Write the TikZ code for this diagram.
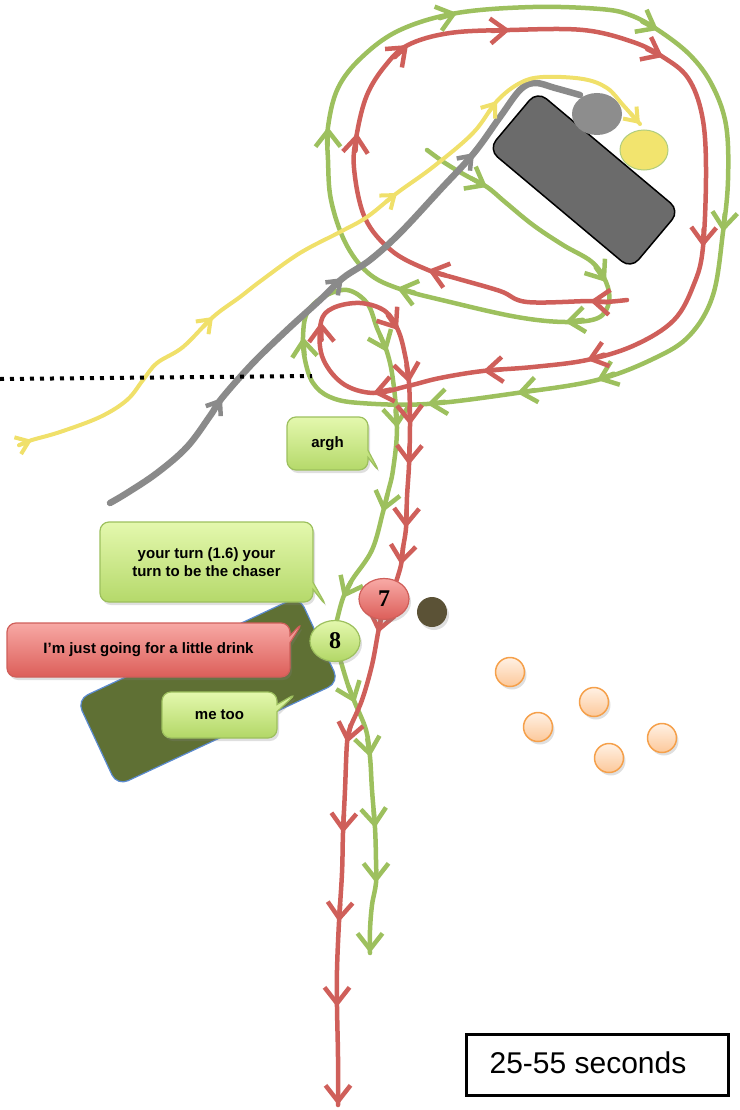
\documentclass[tikz,border=0pt]{standalone}
\usepackage{fontspec}
\setmainfont{Liberation Sans}
\newfontfamily\numfont{Liberation Serif}
\usetikzlibrary{arrows.meta,calc,shapes.callouts,shapes.geometric,shadows}
\definecolor{pgreen}{HTML}{9DC05E}
\definecolor{pred}{HTML}{CF5F5A}
\definecolor{pyellow}{HTML}{F0E06A}
\definecolor{pgray}{HTML}{8A8A8A}
\definecolor{cgtop}{HTML}{E4F8AE}
\definecolor{cgbot}{HTML}{B2D766}
\definecolor{crtop}{HTML}{F8AAA6}
\definecolor{crbot}{HTML}{DC5E59}
\definecolor{olive}{HTML}{5F7034}
\definecolor{oliveedge}{HTML}{5B8BD0}
\definecolor{rectgray}{HTML}{6B6B6B}
\definecolor{ellgray}{HTML}{8D8D8D}
\definecolor{ellyellow}{HTML}{F2E46E}
\definecolor{brownish}{HTML}{5B5236}
\definecolor{orfill}{HTML}{FCC89A}
\definecolor{orlight}{HTML}{FFF1E4}
\definecolor{oredge}{HTML}{F5A04A}
\newcommand{\mkarr}[3]{\draw[#1,-{Straight Barb[length=16pt,width=25pt]}] ($(#3)!18pt!(#2)$) -- (#3);}
\newcommand{\mkarrs}[3]{\draw[#1,-{Straight Barb[length=12pt,width=18pt]}] ($(#3)!14pt!(#2)$) -- (#3);}
\tikzset{
  pathbase/.style={line width=4.5pt,line cap=round,line join=round},
  gline/.style={pathbase,draw=pgreen},
  rline/.style={pathbase,draw=pred},
  yline/.style={pathbase,draw=pyellow,line width=4pt},
  kline/.style={pathbase,draw=pgray,line width=6.5pt},
  softshadow/.style={drop shadow={opacity=0.25,shadow xshift=2pt,shadow yshift=-3pt}},
  callgreen/.style={rectangle callout,rounded corners=9pt,top color=cgtop,bottom color=cgbot,draw=pgreen,line width=1.2pt,softshadow,font=\bfseries\fontsize{15}{18}\selectfont,align=center,inner sep=0pt},
  callred/.style={rectangle callout,rounded corners=9pt,top color=crtop,bottom color=crbot,draw=pred,line width=1.2pt,softshadow,font=\bfseries\fontsize{15}{18}\selectfont,align=center,inner sep=0pt},
  orball/.style={circle,minimum size=29pt,inner sep=0pt,top color=orlight,bottom color=orfill,draw=oredge,line width=1.5pt,softshadow},
  numnode/.style={ellipse,inner sep=0pt,minimum width=50pt,minimum height=41pt,line width=1.2pt,softshadow,font=\numfont\bfseries\fontsize{24}{26}\selectfont}
}
\begin{document}
\begin{tikzpicture}[x=1pt,y=-1pt]
\useasboundingbox (0,0) rectangle (739,1110);

% background objects
\node[rectangle,rotate=25,minimum width=245pt,minimum height=95pt,rounded corners=12pt,fill=olive,draw=oliveedge,line width=1.2pt] (mat) at (208,691) {};
\node[rectangle,rotate=-40,minimum width=186pt,minimum height=76pt,rounded corners=12pt,fill=rectgray,draw=black,line width=1.5pt] (table) at (584,180) {};
\node[ellipse,minimum width=50pt,minimum height=42pt,fill=ellgray] (grayell) at (597,114) {};
\node[ellipse,minimum width=48pt,minimum height=40pt,fill=ellyellow,draw=pgreen!80,line width=1pt] (yellell) at (644,150) {};

% green path
\draw[gline] plot[smooth,tension=0.6] coordinates {(427,150) (445,163) (465,175) (487,187) (505,202) (533,225) (563,245) (592,262) (606,282) (609,302) (598,318) (565,322) (517,317) (450,302) (397,288) (367,272) (345,242) (331,200) (328,160) (328,127) (338,88) (362,57) (400,30) (457,13) (533,7) (600,9) (630,15) (658,30) (690,55) (712,85) (726,125) (728,180) (723,232) (713,295) (690,335) (655,358) (597,380) (517,393) (427,404) (360,403) (330,397) (313,383) (305,360) (303,337) (307,313) (323,297) (347,290) (367,303) (377,328) (387,352) (393,380) (397,428) (393,470) (388,492) (383,512) (372,550) (352,580) (343,598) (337,620)};
\draw[gline] plot[smooth,tension=0.6] coordinates {(341,662) (348,685) (355,703) (366,730) (370,757) (372,790) (375,828) (376,860) (376,883) (372,905) (370,930) (370,953)};
\mkarr{gline}{465,175}{487,187}
\mkarr{gline}{592,262}{606,282}
\mkarr{gline}{598,318}{565,322}
\mkarr{gline}{450,302}{397,288}
\mkarr{gline}{328,160}{328,127}
\mkarr{gline}{400,30}{457,13}
\mkarr{gline}{630,15}{658,30}
\mkarr{gline}{728,180}{723,232}
\mkarr{gline}{655,358}{597,380}
\mkarr{gline}{597,380}{517,393}
\mkarr{gline}{517,393}{427,404}
\mkarr{gline}{305,360}{303,337}
\mkarr{gline}{377,328}{387,352}
\mkarr{gline}{393,380}{397,428}
\mkarr{gline}{388,492}{383,512}
\mkarr{gline}{352,580}{343,598}
\mkarr{gline}{348,685}{355,703}
\mkarr{gline}{366,730}{370,757}
\mkarr{gline}{372,790}{375,828}
\mkarr{gline}{376,860}{376,883}
\mkarr{gline}{370,930}{370,953}

% red path
\draw[rline] plot[smooth,tension=0.6] coordinates {(627,300) (605,302) (590,301) (527,302) (500,291) (455,278) (428,270) (392,251) (365,218) (354,168) (357,133) (367,95) (385,66) (408,45) (450,33) (510,30) (583,30) (633,42) (663,57) (688,78) (702,115) (706,168) (703,247) (694,284) (674,320) (635,345) (587,360) (533,367) (483,371) (440,378) (408,386) (373,393) (342,383) (322,356) (321,322) (333,308) (360,303) (385,311) (398,330) (405,355) (409,383) (410,425) (409,465) (407,497) (406,528) (403,548) (401,565) (396,582)};
\draw[rline] plot[smooth,tension=0.6] coordinates {(381,619) (378,633) (372,665) (362,700) (350,728) (347,743) (345,790) (343,833) (342,873) (339,922) (337,970) (337,1007) (338,1057) (338,1105)};
\mkarr{rline}{605,302}{590,301}
\mkarr{rline}{455,278}{428,270}
\mkarr{rline}{354,168}{357,133}
\mkarr{rline}{385,66}{408,45}
\mkarr{rline}{450,33}{510,30}
\mkarr{rline}{633,42}{663,57}
\mkarr{rline}{706,168}{703,247}
\mkarr{rline}{635,345}{587,360}
\mkarr{rline}{533,367}{483,371}
\mkarr{rline}{408,386}{373,393}
\mkarr{rline}{322,356}{321,322}
\mkarr{rline}{385,311}{398,330}
\mkarr{rline}{405,355}{409,383}
\mkarr{rline}{409,383}{410,425}
\mkarr{rline}{410,425}{409,465}
\mkarr{rline}{407,497}{406,528}
\mkarr{rline}{403,548}{401,565}
\mkarr{rline}{381,619}{378,633}
\mkarr{rline}{350,728}{347,743}
\mkarr{rline}{345,790}{343,833}
\mkarr{rline}{342,873}{339,922}
\mkarr{rline}{337,970}{337,1007}
\mkarr{rline}{338,1057}{338,1105}

% gray path
\draw[kline] plot[smooth,tension=0.6] coordinates {(110,503) (127,493) (157,473) (187,447) (210,416) (222,398) (253,363) (287,330) (320,300) (343,278) (370,260) (400,233) (440,190) (474,153) (500,117) (520,90) (535,83) (555,88) (580,95)};
\mkarrs{kline,line width=4.5pt}{210,416}{222,398}
\mkarrs{kline,line width=4.5pt}{320,300}{343,278}
\mkarrs{kline,line width=4.5pt}{440,190}{474,153}

% yellow path
\draw[yline] plot[smooth,tension=0.6] coordinates {(22,444) (32,440) (60,432) (100,417) (127,400) (143,380) (157,363) (183,347) (213,317) (240,297) (262,280) (300,253) (340,232) (367,217) (397,193) (433,167) (473,133) (497,101) (520,83) (543,77) (583,79) (607,88) (623,105) (640,124)};
\mkarrs{yline}{22,444}{32,440}
\mkarrs{yline}{183,347}{213,317}
\mkarrs{yline}{367,217}{397,193}
\mkarrs{yline}{473,133}{497,101}
\mkarrs{yline}{623,105}{640,124}

% dotted boundary
\coordinate (dotA) at (0,379);
\coordinate (dotB) at (312,376);
\draw[line width=4pt,dash pattern=on 4pt off 6pt] (dotA) -- (dotB);

% callouts
\node[callgreen,callout absolute pointer={(380,473)},minimum width=81pt,minimum height=53pt] (argh) at (327.5,443.5) {argh};
\node[callgreen,callout absolute pointer={(327,607)},minimum width=213pt,minimum height=80pt] (turn) at (206.5,562) {your turn (1.6) your\\turn to be the chaser};
\node[callred,callout absolute pointer={(303,622)},minimum width=283pt,minimum height=54pt] (drink) at (148.5,650) {I’m just going for a little drink};
\node[callgreen,callout absolute pointer={(297,693)},minimum width=115pt,minimum height=46pt] (metoo) at (219.5,715) {me too};

% numbered players
\node[numnode,top color=cgtop,bottom color=cgbot,draw=pgreen] (n8) at (335,641) {8};
\node[numnode,top color=crtop,bottom color=crbot,draw=pred] (n7) at (384,599) {7};
\node[circle,minimum size=30pt,inner sep=0pt,fill=brownish,softshadow] (ball) at (432,612) {};

% orange markers
\node[orball] (o1) at (510,672) {};
\node[orball] (o2) at (594,702) {};
\node[orball] (o3) at (538,727) {};
\node[orball] (o4) at (662,738) {};
\node[orball] (o5) at (609,758) {};

% time box
\node[draw=black,line width=3.5pt,minimum width=262pt,minimum height=61pt] (tbox) at (597.5,1065) {};
\node[font=\fontsize{30}{36}\selectfont,inner sep=0pt] (tlabel) at (588,1063) {25-55 seconds};
\end{tikzpicture}
\end{document}
